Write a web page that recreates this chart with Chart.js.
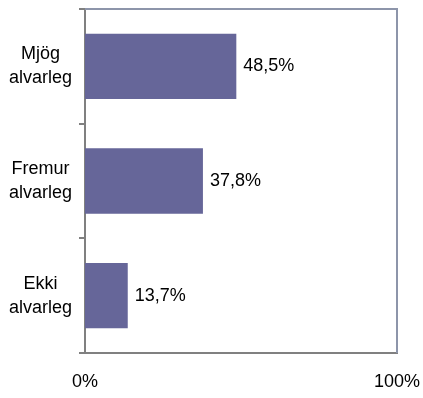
<!DOCTYPE html>
<html>
<head>
<meta charset="utf-8">
<script src="https://cdn.jsdelivr.net/npm/chart.js@4"></script>
<style>
  html, body { margin: 0; padding: 0; background: #fff; }
  #wrap { width: 423px; height: 398px; }
</style>
</head>
<body>
<div id="wrap"><canvas id="barChart" width="423" height="398"></canvas></div>
<script>
const categories = [['Mjög', 'alvarleg'], ['Fremur', 'alvarleg'], ['Ekki', 'alvarleg']]
const shares = [48.5, 37.8, 13.7]
const valueLabels = ['48,5%', '37,8%', '13,7%']
const tickLabels = { 0: '0%', 100: '100%' }

const fontFamily = '"Liberation Sans Narrow", "Arial Narrow", "Liberation Sans", Arial, sans-serif'

// writes the share next to the end of each bar
const valueLabelPlugin = {
    id: 'valueLabels',
    afterDatasetsDraw(chart) {
        const ctx = chart.ctx
        const meta = chart.getDatasetMeta(0)
        ctx.save()
        ctx.font = '18px ' + fontFamily
        ctx.fillStyle = '#000'
        ctx.textAlign = 'left'
        ctx.textBaseline = 'middle'
        meta.data.forEach(function (bar, i) {
            ctx.fillText(valueLabels[i], bar.x + 7, bar.y)
        })
        ctx.restore()
    }
}

// light frame on the top and right of the plot area
const framePlugin = {
    id: 'frame',
    beforeDatasetsDraw(chart) {
        const a = chart.chartArea
        const ctx = chart.ctx
        ctx.save()
        ctx.strokeStyle = '#8d95aa'
        ctx.lineWidth = 2
        ctx.beginPath()
        ctx.moveTo(a.left, a.top)
        ctx.lineTo(a.right, a.top)
        ctx.lineTo(a.right, a.bottom)
        ctx.stroke()
        ctx.restore()
    }
}

const data = {
    labels: categories,
    datasets: [{
        data: shares,
        backgroundColor: '#666699',
        borderWidth: 0,
        barPercentage: 0.57,
        categoryPercentage: 1
    }]
}

const config = {
    type: 'bar',
    data: data,
    options: {
        indexAxis: 'y',
        responsive: false,
        animation: false,
        layout: { padding: { top: 9, right: 26, left: 0, bottom: 0 } },
        plugins: {
            legend: { display: false },
            tooltip: { enabled: false }
        },
        scales: {
            x: {
                min: 0,
                max: 100,
                ticks: {
                    stepSize: 100,
                    color: '#000',
                    padding: 10,
                    maxRotation: 0,
                    font: { family: fontFamily, size: 18 },
                    callback: function (value) { return tickLabels[value] }
                },
                grid: { display: false },
                border: { display: true, color: '#808080', width: 2 },
                afterFit: function (scale) {
                    scale.height = 45
                    scale.paddingLeft = 0
                    scale.paddingRight = 0
                }
            },
            y: {
                ticks: {
                    color: '#000',
                    crossAlign: 'center',
                    padding: 7,
                    font: { family: fontFamily, size: 18, lineHeight: 1.33 }
                },
                grid: {
                    offset: true,
                    drawOnChartArea: false,
                    drawTicks: true,
                    tickLength: 6,
                    color: '#808080',
                    lineWidth: 2
                },
                border: { display: true, color: '#808080', width: 2 },
                afterFit: function (scale) {
                    scale.width = 85
                    scale.paddingTop = 0
                    scale.paddingBottom = 0
                }
            }
        }
    },
    plugins: [framePlugin, valueLabelPlugin]
}

new Chart(document.getElementById('barChart'), config)
</script>
</body>
</html>
